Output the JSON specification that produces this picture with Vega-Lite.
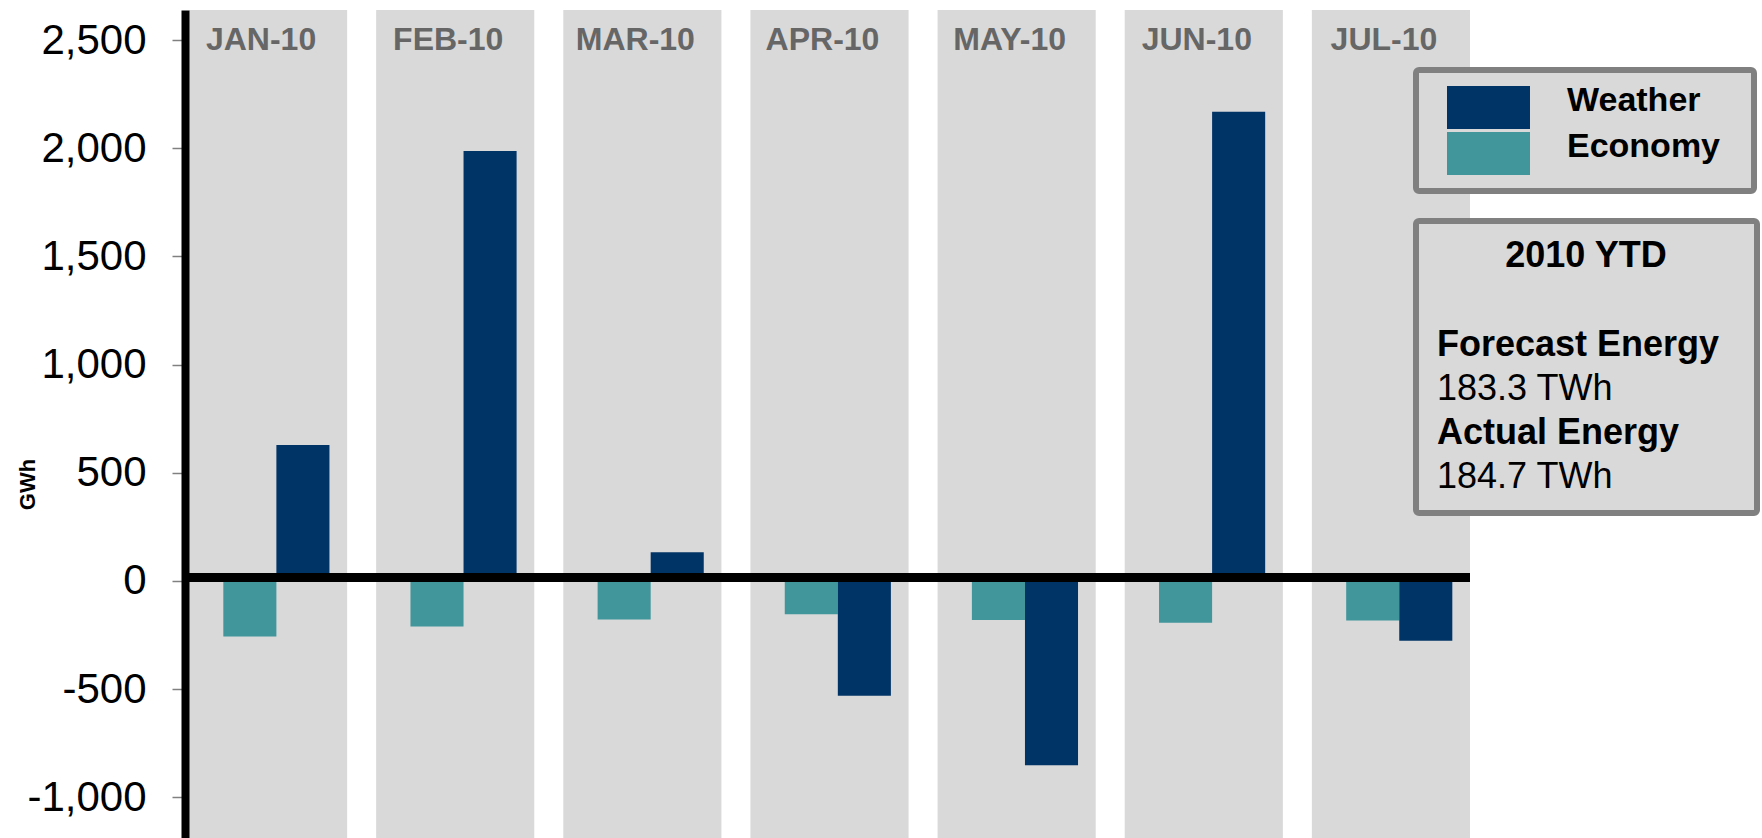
{
  "$schema": "https://vega.github.io/schema/vega-lite/v6.json",
  "width": 1281,
  "height": 828,
  "autosize": "none",
  "padding": {"left": 189, "top": 10, "right": 292, "bottom": 0},
  "background": "white",
  "config": {"font": "Liberation Sans", "view": {"stroke": null}},
  "datasets": {
    "months": [
      {"month": "JAN-10"}, {"month": "FEB-10"}, {"month": "MAR-10"}, {"month": "APR-10"},
      {"month": "MAY-10"}, {"month": "JUN-10"}, {"month": "JUL-10"}
    ],
    "bars": [
      {"month": "JAN-10", "series": "Economy", "gwh": -257},
      {"month": "JAN-10", "series": "Weather", "gwh": 628},
      {"month": "FEB-10", "series": "Economy", "gwh": -211},
      {"month": "FEB-10", "series": "Weather", "gwh": 1987},
      {"month": "MAR-10", "series": "Economy", "gwh": -178},
      {"month": "MAR-10", "series": "Weather", "gwh": 133},
      {"month": "APR-10", "series": "Economy", "gwh": -154},
      {"month": "APR-10", "series": "Weather", "gwh": -531},
      {"month": "MAY-10", "series": "Economy", "gwh": -180},
      {"month": "MAY-10", "series": "Weather", "gwh": -852},
      {"month": "JUN-10", "series": "Economy", "gwh": -193},
      {"month": "JUN-10", "series": "Weather", "gwh": 2169},
      {"month": "JUL-10", "series": "Economy", "gwh": -183},
      {"month": "JUL-10", "series": "Weather", "gwh": -276}
    ],
    "zero": [{"gwh": 0}],
    "ytd": [
      {"item": "Forecast Energy"}, {"item": "183.3 TWh"},
      {"item": "Actual Energy"}, {"item": "184.7 TWh"}
    ]
  },
  "layer": [
    {
      "data": {"name": "months"},
      "mark": {"type": "bar", "color": "#D9D9D9"},
      "encoding": {
        "x": {
          "field": "month", "type": "nominal", "sort": null,
          "scale": {"paddingInner": 0.155, "paddingOuter": 0},
          "axis": {
            "orient": "top", "title": null, "domain": false, "ticks": false, "tickSize": 0,
            "labelAngle": 0, "labelFontSize": 32, "labelFontWeight": "bold", "labelColor": "#666666",
            "labelPadding": -39.5, "labelBaseline": "alphabetic", "labelAlign": "center",
            "labelOffset": -7, "zindex": 1
          }
        }
      }
    },
    {
      "data": {"name": "bars"},
      "mark": {"type": "bar"},
      "encoding": {
        "x": {"field": "month", "type": "nominal", "sort": null,
              "scale": {"paddingInner": 0.155, "paddingOuter": 0}},
        "xOffset": {
          "field": "series", "type": "nominal",
          "scale": {"domain": ["Economy", "Weather"], "paddingInner": 0, "paddingOuter": 0.49, "align": 0.66}
        },
        "y": {
          "field": "gwh", "type": "quantitative",
          "scale": {"domain": [-1188, 2639], "nice": false, "zero": false},
          "axis": {
            "values": [-1000, -500, 0, 500, 1000, 1500, 2000, 2500],
            "labelExpr": "replace(format(datum.value, ','), '\u2212', '-')",
            "labelFontSize": 42, "labelColor": "black", "labelPadding": 26,
            "tickSize": 13, "tickColor": "#808080", "tickWidth": 1.5,
            "domainColor": "black", "domainWidth": 8, "offset": 4, "grid": false,
            "title": "GWh", "titleFontSize": 22, "titleFontWeight": "bold", "titleColor": "black",
            "titleAngle": -90, "titleAlign": "center", "titleBaseline": "middle",
            "titleX": -158, "titleY": 474, "zindex": 1
          }
        },
        "color": {
          "field": "series", "type": "nominal",
          "scale": {"domain": ["Weather", "Economy"], "range": ["#003366", "#41969B"]},
          "legend": {
            "orient": "none", "legendX": 1227, "legendY": 60, "title": null,
            "fillColor": "#D9D9D9", "strokeColor": "#808080", "padding": 16, "cornerRadius": 3,
            "symbolType": "M-1,-1H2.86V1H-1ZM12.53,0L12.53,0", "symbolSize": 1849, "symbolStrokeWidth": 0,
            "symbolOpacity": 1, "symbolOffset": 15, "labelOffset": 77,
            "labelFontSize": 34, "labelFontWeight": "bold", "labelColor": "black",
            "rowPadding": 0, "labelLimit": 400,
            "encoding": {
              "legend": {"strokeWidth": {"value": 6}},
              "labels": {"dy": {"value": -7}}
            }
          }
        }
      }
    },
    {
      "data": {"name": "zero"},
      "mark": {"type": "rule", "color": "black", "strokeWidth": 9, "yOffset": -3.5},
      "encoding": {"y": {"field": "gwh", "type": "quantitative"}}
    },
    {
      "data": {"name": "ytd"},
      "mark": {"type": "point", "opacity": 0, "filled": true},
      "encoding": {
        "fill": {
          "field": "item", "type": "nominal", "sort": null,
          "legend": {
            "orient": "none", "legendX": 1227, "legendY": 211,
            "title": "2010 YTD", "titleFontSize": 36, "titleFontWeight": "bold", "titleColor": "black",
            "titleAnchor": "middle", "titleAlign": "center", "titlePadding": 52,
            "fillColor": "#D9D9D9", "strokeColor": "#808080", "padding": 18, "cornerRadius": 3,
            "symbolType": "M-1,-0.05H15.94V0.05H-1Z", "symbolSize": 1296,
            "symbolOpacity": 0, "symbolStrokeWidth": 0,
            "labelOffset": -33, "labelFontSize": 36, "labelColor": "black",
            "rowPadding": 8, "labelLimit": 400,
            "encoding": {
              "legend": {"strokeWidth": {"value": 6}},
              "labels": {"fontWeight": {"condition": {"test": "datum.value == 'Forecast Energy' || datum.value == 'Actual Energy'", "value": "bold"}, "value": "normal"}}
            }
          }
        }
      }
    }
  ]
}
